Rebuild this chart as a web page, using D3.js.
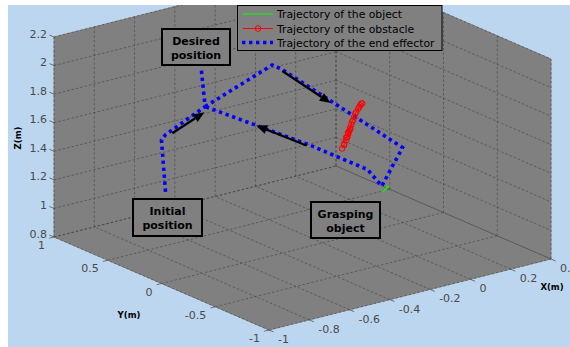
<!DOCTYPE html>
<html><head><meta charset="utf-8">
<script src="https://cdn.jsdelivr.net/npm/d3@7"></script>
<style>html,body{margin:0;padding:0;background:#fff;}svg{display:block;}</style>
</head><body>
<svg id="c" width="570" height="347"></svg>
<script>
// ---- data (world coordinates, metres) ----
const xTicks = [-1, -0.8, -0.6, -0.4, -0.2, 0, 0.2, 0.4];
const yTicks = [1, 0.5, 0, -0.5, -1];
const zTicks = [0.8, 1, 1.2, 1.4, 1.6, 1.8, 2, 2.2];
const xTickLabels = ["-1", "-0.8", "-0.6", "-0.4", "-0.2", "0", "0.2", "0.4"];
const yTickLabels = ["1", "0.5", "0", "-0.5", "-1"];
const zTickLabels = ["0.8", "1", "1.2", "1.4", "1.6", "1.8", "2", "2.2"];

// end effector: approach from initial position to desired position
const eeApproachX = [-0.82, -0.84, -0.82, -0.73, -0.75];
const eeApproachY = [0.3, 0.3, 0.3, 0.1, 0.1];
const eeApproachZ = [1.28, 1.65, 1.68, 1.91, 2.19];
// end effector: loop desired -> grasp -> back to desired
const eeLoopX = [-0.73, -0.29, -0.24, 0.09, -0.12, -0.19, -0.37, -0.73];
const eeLoopY = [0.1, 0.3, 0.3, -0.2, -0.4, -0.4, -0.2, 0.1];
const eeLoopZ = [1.91, 1.98, 1.93, 1.43, 1.30, 1.44, 1.61, 1.91];

// obstacle trajectory
const obsX = [-0.21, -0.20, -0.20, -0.19, -0.19, -0.185, -0.18, -0.18, -0.175, -0.17,
              -0.185, -0.18, -0.17, -0.165, -0.16, -0.155, -0.15, -0.145, -0.14, -0.13, -0.125, -0.12, -0.115, -0.11];
const obsY = [-0.2, -0.2, -0.2, -0.2, -0.2, -0.2, -0.2, -0.2, -0.2, -0.2,
              -0.2, -0.2, -0.2, -0.2, -0.2, -0.2, -0.2, -0.2, -0.2, -0.2, -0.2, -0.2, -0.2, -0.2];
const obsZ = [1.53, 1.55, 1.56, 1.58, 1.60, 1.60, 1.62, 1.63, 1.64, 1.65,
              1.60, 1.63, 1.66, 1.68, 1.70, 1.71, 1.73, 1.75, 1.76, 1.78, 1.79, 1.80, 1.81, 1.81];

// object trajectory
const objX = [-0.10, -0.09, -0.115];
const objY = [-0.4, -0.4, -0.4];
const objZ = [1.287, 1.283, 1.256];

// arrows (tail, tip) in world coordinates
const arrowTail = [[-0.84, 0.2, 1.73], [-0.24, 0.3, 1.92], [-0.28, 0, 1.51]];
const arrowTip  = [[-0.68, 0.2, 1.82], [0, 0.3, 1.61], [-0.53, 0, 1.74]];

const legendLabels = ["Trajectory of the object", "Trajectory of the obstacle", "Trajectory of the end effector"];

// ---- projection (orthographic view) ----
const fx = d3.scaleLinear().domain([-1, 0.4]).range([0, 1]);
const fy = d3.scaleLinear().domain([-1, 1]).range([0, 1]);
const fz = d3.scaleLinear().domain([0.8, 2.2]).range([0, 1]);
const O = [269, 330], VX = [282, -71], VY = [-215, -93], VZ = [0, -200];
function P(x, y, z) {
  const a = fx(x), b = fy(y), c = fz(z);
  return [O[0] + a*VX[0] + b*VY[0] + c*VZ[0], O[1] + a*VX[1] + b*VY[1] + c*VZ[1]];
}
const [x0, x1] = fx.domain(), [y0, y1] = fy.domain(), [z0, z1] = fz.domain();

const svg = d3.select("#c");
svg.append("defs").append("clipPath").attr("id", "fig")
  .append("rect").attr("x", 8).attr("y", 5).attr("width", 562).attr("height", 342);
svg.append("rect").attr("x", 8).attr("y", 5).attr("width", 562).attr("height", 342).attr("fill", "#bdd6ef");
const g = svg.append("g").attr("clip-path", "url(#fig)");

const line = d3.line();
const faces = [
  [[x0,y0,z0],[x1,y0,z0],[x1,y1,z0],[x0,y1,z0]],
  [[x0,y1,z0],[x1,y1,z0],[x1,y1,z1],[x0,y1,z1]],
  [[x1,y0,z0],[x1,y1,z0],[x1,y1,z1],[x1,y0,z1]]
];
g.selectAll("path.face").data(faces).join("path").attr("class","face")
  .attr("d", f => line(f.map(p => P(...p))) + "Z")
  .attr("fill", "#808080").attr("stroke", "#808080").attr("stroke-width", 0.8);

// grid lines
const grid = [];
xTicks.forEach(x => { grid.push([[x,y0,z0],[x,y1,z0]]); grid.push([[x,y1,z0],[x,y1,z1]]); });
yTicks.forEach(y => { grid.push([[x0,y,z0],[x1,y,z0]]); grid.push([[x1,y,z0],[x1,y,z1]]); });
zTicks.forEach(z => { grid.push([[x0,y1,z],[x1,y1,z]]); grid.push([[x1,y1,z],[x1,y0,z]]); });
g.selectAll("path.grid").data(grid).join("path").attr("class","grid")
  .attr("d", s => line(s.map(p => P(...p))))
  .attr("fill", "none").attr("stroke", "#3a3a3a").attr("stroke-width", 0.7)
  .attr("stroke-dasharray", "2.5,2").attr("opacity", 0.75);

// ticks
const tl = 5;
const uY = [-0.918, -0.397], uNX = [-0.97, 0.244], uNY = [0.918, 0.397];
zTicks.forEach(z => { const p = P(x0, y1, z);
  g.append("line").attr("x1", p[0]).attr("y1", p[1]).attr("x2", p[0]+uY[0]*tl).attr("y2", p[1]+uY[1]*tl).attr("stroke", "#555").attr("stroke-width", 0.8); });
yTicks.forEach(y => { const p = P(x0, y, z0);
  g.append("line").attr("x1", p[0]).attr("y1", p[1]).attr("x2", p[0]+uNX[0]*tl).attr("y2", p[1]+uNX[1]*tl).attr("stroke", "#555").attr("stroke-width", 0.8); });
xTicks.forEach(x => { const p = P(x, y0, z0);
  g.append("line").attr("x1", p[0]).attr("y1", p[1]).attr("x2", p[0]+uNY[0]*tl).attr("y2", p[1]+uNY[1]*tl).attr("stroke", "#555").attr("stroke-width", 0.8); });

// trajectories
const pts = (X, Y, Z) => X.map((x, i) => P(x, Y[i], Z[i]));
[[eeApproachX, eeApproachY, eeApproachZ], [eeLoopX, eeLoopY, eeLoopZ]].forEach(s => {
  g.append("path").attr("d", line(pts(...s))).attr("fill", "none")
    .attr("stroke", "#0000ff").attr("stroke-width", 3.6).attr("stroke-dasharray", "3.4,3.6");
});
const obsPts = pts(obsX, obsY, obsZ);
g.append("path").attr("d", line(obsPts)).attr("fill", "none").attr("stroke", "#ff0000").attr("stroke-width", 1);
g.selectAll("circle.obs").data(obsPts).join("circle").attr("class","obs")
  .attr("cx", d => d[0]).attr("cy", d => d[1]).attr("r", 2.8)
  .attr("fill", "none").attr("stroke", "#ff0000").attr("stroke-width", 1);
g.append("path").attr("d", line(pts(objX, objY, objZ))).attr("fill", "none")
  .attr("stroke", "#00ff00").attr("stroke-width", 1.4);

// arrows
arrowTail.forEach((t, i) => {
  const a = P(...t), b = P(...arrowTip[i]);
  const dx = b[0]-a[0], dy = b[1]-a[1], L = Math.hypot(dx, dy), ux = dx/L, uy = dy/L;
  const hl = 11, hw = 4.5;
  const base = [b[0]-ux*hl, b[1]-uy*hl];
  g.append("line").attr("x1", a[0]).attr("y1", a[1]).attr("x2", base[0]).attr("y2", base[1])
    .attr("stroke", "#000").attr("stroke-width", 2.2);
  g.append("path").attr("d", line([b, [base[0]-uy*hw, base[1]+ux*hw], [base[0]+uy*hw, base[1]-ux*hw]]) + "Z")
    .attr("fill", "#000");
});

// annotation boxes
const notes = [
  {lines: ["Desired", "position"], x: 162, y: 29, w: 68, h: 36},
  {lines: ["Initial", "position"], x: 133, y: 199, w: 69, h: 37},
  {lines: ["Grasping", "object"], x: 311, y: 202, w: 69, h: 36}
];
notes.forEach(n => {
  g.append("rect").attr("x", n.x).attr("y", n.y).attr("width", n.w).attr("height", n.h)
    .attr("fill", "#808080").attr("stroke", "#000").attr("stroke-width", 2);
  n.lines.forEach((t, i) => g.append("text").attr("x", n.x + n.w/2).attr("y", n.y + 15.5 + i*14)
    .attr("text-anchor", "middle").attr("font-family", "DejaVu Sans").attr("font-weight", "bold")
    .attr("font-size", 11).attr("fill", "#000").text(t));
});

// tick labels
const lab = {"font-family": "DejaVu Sans", "font-size": 11, "fill": "#4a4a4a"};
function styled(sel, o) { Object.entries(o).forEach(([k, v]) => sel.attr(k, v)); return sel; }
zTicks.forEach((z, i) => { const p = P(x0, y1, z);
  styled(g.append("text"), lab).attr("x", 47).attr("y", p[1] + 0.5).attr("text-anchor", "end").text(zTickLabels[i]); });
yTicks.forEach((y, i) => { const p = P(x0, y, z0);
  styled(g.append("text"), lab).attr("x", p[0] - 9).attr("y", p[1] + 12).attr("text-anchor", "end").text(yTickLabels[i]); });
xTicks.forEach((x, i) => { const p = P(x, y0, z0);
  styled(g.append("text"), lab).attr("x", p[0] + 9).attr("y", p[1] + 13).attr("text-anchor", "start").text(xTickLabels[i]); });

// axis titles
const tit = {"font-family": "DejaVu Sans", "font-size": 8.5, "font-weight": "bold", "fill": "#000", "text-anchor": "middle"};
styled(g.append("text"), tit).attr("transform", "translate(21,138) rotate(-90)").text("Z(m)");
styled(g.append("text"), tit).attr("x", 129).attr("y", 318).text("Y(m)");
styled(g.append("text"), tit).attr("x", 552).attr("y", 290).text("X(m)");

// legend
const lg = g.append("g");
lg.append("rect").attr("x", 237.5).attr("y", 5.5).attr("width", 204.5).attr("height", 45)
  .attr("fill", "#808080").attr("stroke", "#000").attr("stroke-width", 1);
const rowY = [14, 28.5, 42.5];
lg.append("line").attr("x1", 243).attr("x2", 273).attr("y1", rowY[0]).attr("y2", rowY[0]).attr("stroke", "#00ff00").attr("stroke-width", 1);
lg.append("line").attr("x1", 243).attr("x2", 273).attr("y1", rowY[1]).attr("y2", rowY[1]).attr("stroke", "#ff0000").attr("stroke-width", 1);
lg.append("circle").attr("cx", 258).attr("cy", rowY[1]).attr("r", 2.8).attr("fill", "none").attr("stroke", "#ff0000");
lg.append("line").attr("x1", 242).attr("x2", 273).attr("y1", rowY[2]).attr("y2", rowY[2]).attr("stroke", "#0000ff")
  .attr("stroke-width", 3.6).attr("stroke-dasharray", "3.4,3.6");
legendLabels.forEach((t, i) => lg.append("text").attr("x", 277).attr("y", rowY[i] + 4)
  .attr("font-family", "DejaVu Sans").attr("font-size", 10.8).attr("fill", "#000").text(t));
</script>
</body></html>
